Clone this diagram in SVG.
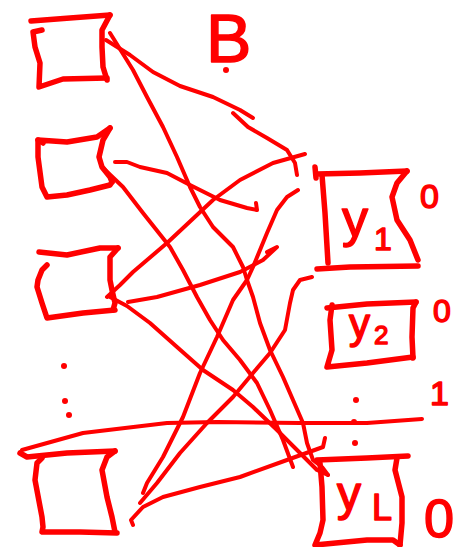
<svg xmlns="http://www.w3.org/2000/svg" width="472" height="547" viewBox="0 0 472 547">
<style>
.bx{fill:none;stroke:#ff0000;stroke-width:5.5;stroke-linecap:round;stroke-linejoin:round}
.cn{fill:none;stroke:#ff0000;stroke-width:4;stroke-linecap:round;stroke-linejoin:round}
.t{fill:#ff0000;stroke:#ff0000;stroke-width:1.5;stroke-linejoin:round;font-family:"Liberation Sans",Arial,sans-serif}
.dot{fill:#ff0000}
</style>
<rect width="472" height="547" fill="#ffffff"/>
<g id="label-B">
<text class="t" x="206" y="62" font-size="68">B</text>
<circle class="dot" cx="226" cy="70" r="3"/>
</g>
<g id="x1">
<polyline class="bx" points="31,21 70,18 110,15"/>
<polyline class="bx" points="42,30 33,32 35,47 40,63 39,87 63,79 107,78"/>
<polyline class="bx" points="110,15 102,30 102,47 103,67 107,80"/>
</g>
<g id="x2">
<polyline class="bx" points="43,143 38,140 67,142 97,137 110,128"/>
<polyline class="bx" points="38,140 38,157 42,187 47,197 67,195 90,190 110,185 112,182"/>
<polyline class="bx" points="110,128 103,140 99,157 102,167 110,177 112,182"/>
</g>
<g id="x3">
<polyline class="bx" points="39,252 67,255 100,248 118,248"/>
<polyline class="bx" points="118,248 110,257 110,280 112,290 115,303 113,310"/>
<polyline class="bx" points="47,265 42,270 38,280 37,287 42,303 47,318 83,313 115,310"/>
</g>
<g id="dots-left">
<circle class="dot" cx="64" cy="366" r="3"/>
<circle class="dot" cx="65" cy="401" r="3"/>
<circle class="dot" cx="69" cy="415" r="3"/>
</g>
<g id="x4">
<polyline class="bx" points="20,453 27,457 67,453 115,451"/>
<polyline class="bx" points="115,451 107,457 102,470 107,497 112,517 115,532"/>
<polyline class="bx" points="42,458 37,463 35,480 42,517 43,527 42,532 80,532 117,533"/>
</g>
<g id="y1">
<polyline class="bx" points="315,167 316,178"/>
<polyline class="bx" points="317,174 360,173 407,171"/>
<polyline class="bx" points="322,175 325,213 328,263"/>
<polyline class="bx" points="407,171 397,183 392,197 397,220 410,240 418,260"/>
<polyline class="bx" points="317,269 350,267 418,266"/>
<text class="t" x="342" y="236" font-size="52">y</text>
<text class="t" x="374" y="250" font-size="32">1</text>
<text class="t" x="420" y="208" font-size="34">0</text>
</g>
<g id="y2">
<polyline class="bx" points="327,308 367,304 416,302"/>
<polyline class="bx" points="332,305 330,320 332,350 327,367 367,363 413,357"/>
<polyline class="bx" points="416,302 413,308 412,337 413,358"/>
<text class="t" x="349" y="338" font-size="42">y</text>
<text class="t" x="374" y="344" font-size="26">2</text>
<text class="t" x="433" y="322" font-size="32">0</text>
</g>
<g id="label-1">
<text class="t" x="430" y="405" font-size="34">1</text>
</g>
<g id="dots-right">
<circle class="dot" cx="356" cy="400" r="3"/>
<circle class="dot" cx="354" cy="422" r="3"/>
<circle class="dot" cx="355" cy="443" r="3"/>
</g>
<g id="yL">
<polyline class="bx" points="317,460 367,458 408,456"/>
<polyline class="bx" points="320,463 322,487 323,520 320,533 315,545 367,540 393,540 400,545"/>
<polyline class="bx" points="397,458 395,470 402,497 402,523 400,545"/>
<text class="t" x="337" y="510" font-size="48">y</text>
<text class="t" x="372" y="520" font-size="36">L</text>
<text class="t" x="424" y="537" font-size="54">0</text>
</g>
<g id="connectors">
<polyline class="cn" points="106,40 130,55 153,72 180,86 213,97 240,110 253,118"/>
<polyline class="cn" points="233,113 248,127 267,138 287,150 295,163 297,175"/>
<polyline class="cn" points="110,33 133,70 147,97 163,127 177,157 190,187 200,207 213,227 233,247 243,267 247,280 253,297 260,323 270,350 283,377 293,400 303,423 307,443 313,460 322,467 328,475"/>
<polyline class="cn" points="115,162 127,162 140,167 167,173 190,185 220,200 247,208 257,210 256,203"/>
<polyline class="cn" points="103,168 123,187 143,213 170,247 183,270 197,297 210,320 223,340 240,360 257,383 270,410 283,440 293,467"/>
<polyline class="cn" points="110,297 127,306 150,323 177,347 203,370 233,390 253,407 277,430 300,453 317,470 328,475"/>
<polyline class="cn" points="298,190 287,197 277,210 267,233 253,267 247,280 233,300 217,337 200,373 183,417 163,457 147,483 143,493"/>
<polyline class="cn" points="107,297 120,285 133,272 167,243 213,200 240,180 273,163 305,154"/>
<polyline class="cn" points="128,302 157,297 200,285 240,272 263,260 277,247 267,252"/>
<polyline class="cn" points="312,277 300,280 293,290 290,303 285,330 270,353 253,373 233,397 207,423 180,453 157,483 140,503"/>
<polyline class="cn" points="133,525 131,520 143,507 163,497 200,487 240,477 287,460 323,447 325,438"/>
<polyline class="cn" points="22,450 83,433 167,423 217,422 300,423 367,423 422,419"/>
</g>
</svg>
